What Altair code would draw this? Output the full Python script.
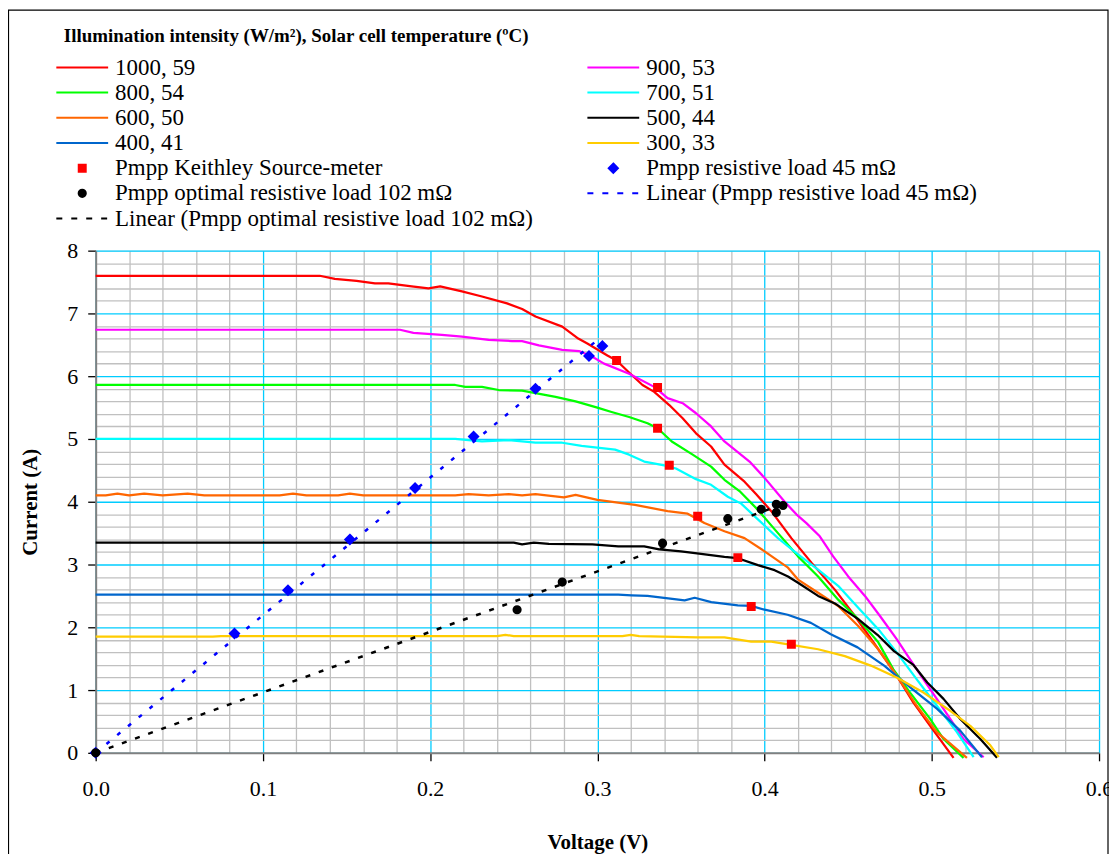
import altair as alt
import pandas as pd

# ---------------- data (V in volts, I in amperes) ----------------
curve_1000_59 = [(0.0, 7.60), (0.134, 7.60), (0.143, 7.55), (0.156, 7.52), (0.167, 7.48), (0.175, 7.48),
                 (0.189, 7.43), (0.199, 7.40), (0.206, 7.43), (0.219, 7.35), (0.231, 7.27), (0.246, 7.16),
                 (0.255, 7.07), (0.263, 6.95), (0.279, 6.79), (0.288, 6.61), (0.294, 6.52), (0.306, 6.33),
                 (0.3115, 6.25), (0.3185, 6.07), (0.327, 5.86), (0.334, 5.75), (0.343, 5.54), (0.351, 5.33),
                 (0.359, 5.09), (0.368, 4.88), (0.376, 4.59), (0.388, 4.32), (0.395, 4.12), (0.404, 3.85),
                 (0.416, 3.42), (0.428, 3.03), (0.442, 2.60), (0.454, 2.18), (0.468, 1.65), (0.479, 1.23),
                 (0.489, 0.80), (0.499, 0.43), (0.513, -0.08)]
curve_900_53 = [(0.0, 6.74), (0.182, 6.74), (0.190, 6.69), (0.207, 6.66), (0.219, 6.63), (0.235, 6.58),
                (0.249, 6.56), (0.255, 6.56), (0.265, 6.49), (0.279, 6.42), (0.289, 6.40), (0.297, 6.31),
                (0.304, 6.20), (0.319, 6.04), (0.334, 5.83), (0.342, 5.65), (0.351, 5.57), (0.359, 5.41),
                (0.368, 5.20), (0.376, 4.96), (0.391, 4.64), (0.400, 4.38), (0.412, 4.00), (0.419, 3.80),
                (0.425, 3.66), (0.433, 3.45), (0.441, 3.13), (0.450, 2.81), (0.460, 2.50), (0.469, 2.18),
                (0.479, 1.81), (0.487, 1.49), (0.495, 1.17), (0.503, 0.86), (0.511, 0.54), (0.519, 0.22),
                (0.531, -0.07)]
curve_800_54 = [(0.0, 5.86), (0.215, 5.86), (0.221, 5.83), (0.231, 5.83), (0.241, 5.78), (0.255, 5.77),
                (0.263, 5.73), (0.275, 5.67), (0.287, 5.60), (0.300, 5.50), (0.3085, 5.43), (0.319, 5.35),
                (0.330, 5.25), (0.336, 5.17), (0.3445, 4.96), (0.357, 4.75), (0.368, 4.56), (0.376, 4.35),
                (0.385, 4.17), (0.396, 3.87), (0.408, 3.50), (0.420, 3.13), (0.432, 2.81), (0.444, 2.44),
                (0.456, 2.13), (0.468, 1.76), (0.477, 1.33), (0.487, 0.96), (0.499, 0.54), (0.507, 0.22),
                (0.519, -0.08)]
curve_700_51 = [(0.0, 5.00), (0.215, 5.00), (0.231, 4.96), (0.247, 4.98), (0.263, 4.94), (0.279, 4.94),
                (0.2906, 4.89), (0.3106, 4.83), (0.319, 4.75), (0.328, 4.64), (0.340, 4.58), (0.347, 4.53),
                (0.359, 4.36), (0.368, 4.27), (0.378, 4.08), (0.386, 3.97), (0.396, 3.72), (0.408, 3.42),
                (0.420, 3.16), (0.432, 2.92), (0.444, 2.66), (0.456, 2.31), (0.468, 1.97), (0.479, 1.60),
                (0.491, 1.17), (0.503, 0.75), (0.515, 0.33), (0.525, -0.07)]
curve_600_50 = [(0.0, 4.10), (0.006, 4.10), (0.013, 4.13), (0.020, 4.10), (0.029, 4.13), (0.040, 4.10),
                (0.055, 4.13), (0.065, 4.10), (0.110, 4.10), (0.118, 4.13), (0.126, 4.10), (0.145, 4.10),
                (0.152, 4.13), (0.160, 4.10), (0.215, 4.10), (0.223, 4.12), (0.235, 4.10), (0.247, 4.12),
                (0.255, 4.10), (0.263, 4.12), (0.280, 4.07), (0.287, 4.11), (0.300, 4.03), (0.3225, 3.95),
                (0.342, 3.85), (0.354, 3.81), (0.364, 3.66), (0.376, 3.53), (0.388, 3.42), (0.400, 3.21),
                (0.414, 2.95), (0.420, 2.76), (0.432, 2.55), (0.444, 2.34), (0.456, 2.02), (0.468, 1.65),
                (0.479, 1.23), (0.491, 0.75), (0.503, 0.33), (0.521, -0.08)]
curve_500_44 = [(0.0, 3.35), (0.250, 3.35), (0.255, 3.32), (0.262, 3.35), (0.271, 3.33), (0.297, 3.32),
                (0.3125, 3.29), (0.328, 3.29), (0.337, 3.24), (0.350, 3.21), (0.362, 3.17), (0.376, 3.12),
                (0.384, 3.10), (0.396, 2.99), (0.406, 2.91), (0.414, 2.81), (0.420, 2.71), (0.432, 2.50),
                (0.442, 2.38), (0.456, 2.13), (0.4675, 1.88), (0.4774, 1.62), (0.489, 1.40), (0.4973, 1.12),
                (0.507, 0.86), (0.517, 0.54), (0.529, 0.22), (0.539, -0.08)]
curve_400_41 = [(0.0, 2.52), (0.3125, 2.52), (0.3205, 2.51), (0.330, 2.50), (0.3522, 2.43), (0.3582, 2.47),
                (0.3681, 2.40), (0.384, 2.35), (0.392, 2.34), (0.400, 2.28), (0.4138, 2.20), (0.4277, 2.07),
                (0.4396, 1.89), (0.4556, 1.68), (0.4715, 1.39), (0.4873, 1.04), (0.5032, 0.70),
                (0.5171, 0.35), (0.530, -0.07)]
curve_300_33 = [(0.0, 1.85), (0.070, 1.85), (0.075, 1.86), (0.240, 1.86), (0.245, 1.88), (0.250, 1.86),
                (0.315, 1.86), (0.320, 1.88), (0.325, 1.86), (0.360, 1.84), (0.376, 1.84), (0.392, 1.77),
                (0.404, 1.77), (0.416, 1.72), (0.432, 1.65), (0.448, 1.54), (0.4635, 1.39), (0.479, 1.20),
                (0.495, 0.96), (0.511, 0.67), (0.523, 0.43), (0.535, 0.12), (0.540, -0.07)]

pmpp_keithley = [(0.3115, 6.25), (0.336, 5.82), (0.336, 5.17), (0.343, 4.58), (0.360, 3.77),
                 (0.384, 3.11), (0.392, 2.33), (0.416, 1.73)]
pmpp_load_45 = [(0.0, 0.0), (0.083, 1.90), (0.115, 2.59), (0.152, 3.40), (0.191, 4.22), (0.226, 5.04),
                (0.263, 5.80), (0.295, 6.32), (0.303, 6.48)]
pmpp_load_102 = [(0.0, 0.0), (0.252, 2.28), (0.279, 2.72), (0.339, 3.34), (0.378, 3.73), (0.398, 3.88),
                 (0.407, 3.96), (0.407, 3.83), (0.411, 3.94)]
linear_45 = [(0.0, 0.0), (0.302, 6.62)]
linear_102 = [(0.0, 0.0), (0.411, 3.96)]

curve_names = ["1000, 59", "900, 53", "800, 54", "700, 51", "600, 50", "500, 44", "400, 41", "300, 33"]
curve_colors = ["#ff0000", "#ff00ff", "#00ff00", "#00ffff", "#ff6600", "#000000", "#0066cc", "#ffcc00"]
name_keithley = "Pmpp Keithley Source-meter"
name_45 = "Pmpp resistive load 45 m\u03a9"
name_102 = "Pmpp optimal resistive load 102 m\u03a9"
name_lin_45 = "Linear (Pmpp resistive load 45 m\u03a9)"
name_lin_102 = "Linear (Pmpp optimal resistive load 102 m\u03a9)"

x_major = [0.0, 0.1, 0.2, 0.3, 0.4, 0.5, 0.6]
y_major = [0, 1, 2, 3, 4, 5, 6, 7, 8]
x_minor = [round(k * 0.02, 2) for k in range(1, 30) if k % 5 != 0]
y_minor = [round(k * 0.2, 1) for k in range(1, 40) if k % 5 != 0]

# ---------------- tables ----------------
curves = [curve_1000_59, curve_900_53, curve_800_54, curve_700_51,
          curve_600_50, curve_500_44, curve_400_41, curve_300_33]
rows = []
for order, (name, pts) in enumerate(zip(curve_names, curves)):
    for v, i in pts:
        rows.append({"V": v, "I": i, "series": name, "o": order})
curve_df = pd.DataFrame(rows)

mrows = []
for name, pts in [(name_keithley, pmpp_keithley), (name_45, pmpp_load_45), (name_102, pmpp_load_102)]:
    for v, i in pts:
        mrows.append({"V": v, "I": i, "series": name})
marker_df = pd.DataFrame(mrows)
keithley_df = pd.DataFrame(pmpp_keithley, columns=["V", "I"])
load45_df = pd.DataFrame(pmpp_load_45, columns=["V", "I"])
load102_df = pd.DataFrame(pmpp_load_102, columns=["V", "I"])
lin45_df = pd.DataFrame(linear_45, columns=["V", "I"])
lin102_df = pd.DataFrame(linear_102, columns=["V", "I"])

# ---------------- marker glyphs (unit = 10 px at size 400) ----------------
SQUARE = "M-0.35,-0.35H0.35V0.35H-0.35Z"
DIAMOND = "M0,-0.46L0.46,0L0,0.46L-0.46,0Z"
CIRCLE = "M0.36,0A0.36,0.36,0,1,1,-0.36,0A0.36,0.36,0,1,1,0.36,0Z"
# legend glyphs, drawn 7 px right of the entry centre
L_LINE = "M-1.9,0H3.3"
L_DASH = "M-1.9,0H-1.3M-0.4,0H0.2M1.1,0H1.7M2.6,0H3.2"
L_SQUARE = "M0.35,-0.35H1.05V0.35H0.35Z"
L_DIAMOND = "M0.7,-0.46L1.16,0L0.7,0.46L0.24,0Z"
L_CIRCLE = "M1.06,0A0.36,0.36,0,1,1,0.34,0A0.36,0.36,0,1,1,1.06,0Z"
style = {n: (c, "transparent", L_LINE) for n, c in zip(curve_names, curve_colors)}
style[name_keithley] = ("#ff0000", "#ff0000", L_SQUARE)
style[name_45] = ("#0000ff", "#0000ff", L_DIAMOND)
style[name_102] = ("#000000", "#000000", L_CIRCLE)
style[name_lin_45] = ("#0000ff", "transparent", L_DASH)
style[name_lin_102] = ("#000000", "transparent", L_DASH)

# two legend columns, filled column by column
domain = ["1000, 59", "800, 54", "600, 50", "400, 41", name_keithley, name_102, name_lin_102,
          "900, 53", "700, 51", "500, 44", "300, 33", name_45, name_lin_45]
stroke_scale = alt.Scale(domain=domain, range=[style[d][0] for d in domain])
fill_scale = alt.Scale(domain=domain, range=[style[d][1] for d in domain])
shape_scale = alt.Scale(domain=domain, range=[style[d][2] for d in domain])
xs = alt.Scale(domain=[0, 0.6], nice=False, zero=False)
ys = alt.Scale(domain=[0, 8], nice=False, zero=False)

FONT = "Liberation Serif"


def make_legend():
    return alt.Legend(
        title="Illumination intensity (W/m\u00b2), Solar cell temperature (\u00baC)",
        orient="none", legendX=-32, legendY=-224, columns=2, columnPadding=49, rowPadding=1.3,
        symbolSize=400, symbolStrokeWidth=2, symbolOpacity=1,
        labelFontSize=23, labelFont=FONT, labelOffset=28.5, labelLimit=1000, labelColor="black",
        titleFontSize=19, titleFont=FONT, titleFontWeight="bold", titleLimit=1000, titleColor="black",
        titlePadding=9.5,
    )


# layer 1: the I-V curves, carrying the minor grid
curve_layer = alt.Chart(curve_df).mark_line(strokeWidth=2.25, strokeJoin="round").encode(
    x=alt.X("V:Q", scale=xs, axis=alt.Axis(orient="top", values=x_minor, grid=True, gridColor="#c0c0c0",
                                           gridWidth=1.3, labels=False, ticks=False, domain=False, title=None)),
    y=alt.Y("I:Q", scale=ys, axis=alt.Axis(orient="right", values=y_minor, grid=True, gridColor="#c0c0c0",
                                           gridWidth=1.3, labels=False, ticks=False, domain=False, title=None)),
    stroke=alt.Stroke("series:N", scale=stroke_scale, legend=make_legend()),
    order="o:Q",
    detail="series:N",
)

# layer 2: linear trend of the 45 mOhm points, carrying the main axes
lin45_layer = alt.Chart(lin45_df).mark_line(stroke="#0000ff", strokeWidth=2.5, strokeDash=[4, 10]).encode(
    x=alt.X("V:Q", scale=xs, axis=alt.Axis(
        orient="bottom", values=x_major, format=".1f", grid=True, gridColor="#00ccff", gridWidth=1.3,
        domainColor="#808080", domainWidth=2, tickColor="black", tickSize=8, tickWidth=1.3,
        labelFontSize=22, labelFont=FONT, labelColor="black", labelPadding=18, labelFlush=False,
        title="Voltage (V)", titleFontSize=21, titleFont=FONT, titleFontWeight="bold", titleColor="black",
        titlePadding=32)),
    y=alt.Y("I:Q", scale=ys, axis=alt.Axis(
        orient="left", values=y_major, format="d", grid=True, gridColor="#00ccff", gridWidth=1.3,
        domainColor="#808080", domainWidth=2, tickColor="black", tickSize=8, tickWidth=1.3,
        labelFontSize=22, labelFont=FONT, labelColor="black", labelPadding=10,
        title="Current (A)", titleFontSize=21, titleFont=FONT, titleFontWeight="bold", titleColor="black",
        titlePadding=26)),
)

lin102_layer = alt.Chart(lin102_df).mark_line(stroke="#000000", strokeWidth=2.5, strokeDash=[5, 9]).encode(
    x=alt.X("V:Q", scale=xs, axis=None),
    y=alt.Y("I:Q", scale=ys, axis=None),
)


def marker(df, color, path):
    return alt.Chart(df).mark_point(filled=True, size=400, strokeWidth=2, opacity=1,
                                    fill=color, stroke=color, shape=path).encode(
        x=alt.X("V:Q", scale=xs, axis=None),
        y=alt.Y("I:Q", scale=ys, axis=None),
    )


keithley_layer = marker(keithley_df, "#ff0000", SQUARE)
load45_layer = marker(load45_df, "#0000ff", DIAMOND)
load102_layer = marker(load102_df, "#000000", CIRCLE)

# carries the legend (its own points are not drawn)
legend_layer = alt.Chart(marker_df).mark_point(filled=True, size=400, strokeWidth=2, opacity=0).encode(
    x=alt.X("V:Q", scale=xs, axis=None),
    y=alt.Y("I:Q", scale=ys, axis=None),
    fill=alt.Fill("series:N", scale=fill_scale, legend=make_legend()),
    stroke=alt.Stroke("series:N", scale=stroke_scale, legend=make_legend()),
    shape=alt.Shape("series:N", scale=shape_scale, legend=make_legend()),
)

frame = alt.Chart(pd.DataFrame({"k": [0]})).mark_rect(filled=False, stroke="black", strokeWidth=1.2).encode(
    x=alt.value(-87.5), x2=alt.value(1016), y=alt.value(-241.5), y2=alt.value(640),
)

chart = alt.layer(curve_layer, lin45_layer, lin102_layer, keithley_layer, load45_layer, load102_layer,
                  legend_layer, frame).resolve_axis(
    x="independent", y="independent"
).properties(
    width=1007, height=504,
    autosize=alt.AutoSizeParams(type="none"),
    padding={"left": 88, "top": 242, "right": 10, "bottom": 100},
    background="white",
).configure_view(stroke=None).configure(font=FONT)

chart.save("out.html", embed_options={"renderer": "svg", "actions": False})
